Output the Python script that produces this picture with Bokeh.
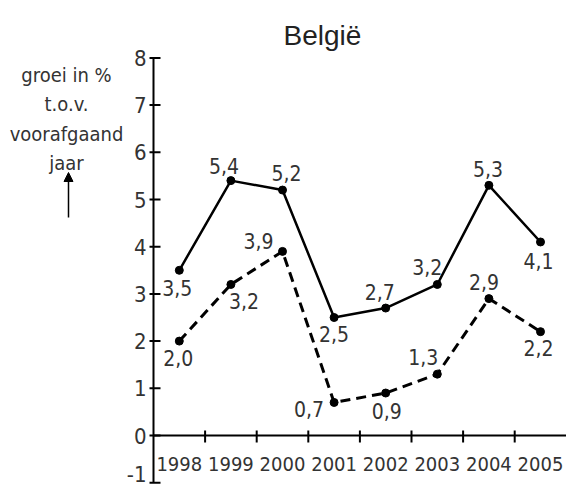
import numpy as np
from bokeh.plotting import figure
from bokeh.models import Range1d, Arrow, NormalHead
from bokeh.core.properties import value
from bokeh.embed import file_html
from bokeh.resources import INLINE

# ---------------- data ----------------
chart_title = "België"
years = ["1998", "1999", "2000", "2001", "2002", "2003", "2004", "2005"]
series_solid = [3.5, 5.4, 5.2, 2.5, 2.7, 3.2, 5.3, 4.1]
series_dashed = [2.0, 3.2, 3.9, 0.7, 0.9, 1.3, 2.9, 2.2]
y_ticks = [-1, 0, 1, 2, 3, 4, 5, 6, 7, 8]
y_label_lines = ["groei in %", "t.o.v.", "voorafgaand", "jaar"]

# ---------------- layout (pixels) ----------------
W, H = 566, 487
PX_X = 51.6          # pixels per category
PX_Y = 47.2          # pixels per y unit
X0_PX = 153          # canvas x of the y axis
Y0_PX = 435          # canvas y of value 0

# label offsets (pixels, screen) relative to each point
solid_dx = [-2, -7, 4, 0, -6, -10, -1, -2]
solid_dy = [18, -15, -17, 16, -16, -17, -16, 19]
dashed_dx = [-1, 13, -24, -25, 1, -14, -5, -2]
dashed_dy = [17, 17, -10, 7, 18, -17, -17, 16]

FONT = value("DejaVu Sans Condensed")
TXT = "#333333"


def xd(px):
    return (px - X0_PX) / PX_X


def yd(py):
    return (Y0_PX - py) / PX_Y


p = figure(width=W, height=H,
           x_range=Range1d(xd(0), xd(W)), y_range=Range1d(yd(H), yd(0)),
           output_backend="svg", toolbar_location=None,
           x_axis_location=None, y_axis_location=None, min_border=0)
p.grid.visible = False
p.outline_line_color = None
p.background_fill_color = "white"
p.border_fill_color = "white"

cx = np.arange(len(years)) + 0.5

# ---- y axis ----
p.segment(x0=[0], y0=[min(y_ticks)], x1=[0], y1=[max(y_ticks)],
          line_color="black", line_width=2)
p.segment(x0=[xd(X0_PX - 4)] * len(y_ticks), x1=[xd(X0_PX + 7)] * len(y_ticks),
          y0=y_ticks, y1=y_ticks, line_color="black", line_width=2)
p.text(x=[xd(X0_PX - 7)] * len(y_ticks), y=y_ticks, text=[str(t) for t in y_ticks],
       y_offset=[-9 if t == min(y_ticks) else 0 for t in y_ticks],
       text_align="right", text_baseline="middle", text_font=FONT,
       text_font_size="22px", text_color=TXT)

# ---- x axis at y = 0 ----
p.segment(x0=[0], y0=[0], x1=[xd(W)], y1=[0], line_color="black", line_width=2)
bounds = np.arange(1, len(years))
p.segment(x0=bounds, x1=bounds, y0=[yd(Y0_PX - 5)] * len(bounds),
          y1=[yd(Y0_PX + 7)] * len(bounds), line_color="black", line_width=2)
p.text(x=cx, y=[0] * len(years), text=years, y_offset=28,
       text_align="center", text_baseline="alphabetic", text_font=FONT,
       text_font_size="20px", text_color=TXT)

# ---- series ----
p.line(cx, series_solid, line_color="black", line_width=2.5)
p.scatter(cx, series_solid, size=8, color="black")
p.line(cx, series_dashed, line_color="black", line_width=3, line_dash="10 6")
p.scatter(cx, series_dashed, size=8, color="black")


def fmt(v):
    return f"{v:.1f}".replace(".", ",")


p.text(x=cx, y=series_solid, text=[fmt(v) for v in series_solid],
       x_offset=solid_dx, y_offset=solid_dy,
       text_align="center", text_baseline="middle", text_font=FONT,
       text_font_size="21px", text_color=TXT)
p.text(x=cx, y=series_dashed, text=[fmt(v) for v in series_dashed],
       x_offset=dashed_dx, y_offset=dashed_dy,
       text_align="center", text_baseline="middle", text_font=FONT,
       text_font_size="21px", text_color=TXT)

# ---- title ----
p.text(x=[xd(322)], y=[yd(35)], text=[chart_title], text_align="center",
       text_baseline="alphabetic", text_font=value("Liberation Sans"),
       text_font_size="28px", text_color="#222222")

# ---- y label ----
label_baselines = [74, 103, 133, 162]
p.text(x=[xd(66)] * len(y_label_lines), y=[yd(b) for b in label_baselines],
       text=y_label_lines, text_align="center", text_baseline="alphabetic",
       text_font=FONT, text_font_size="20px", text_color=TXT)

p.add_layout(Arrow(x_start=xd(68), y_start=yd(217), x_end=xd(68), y_end=yd(172),
                   line_width=1.5, line_color="black",
                   end=NormalHead(size=9, fill_color="black", line_color="black")))

open("out.html", "w").write(file_html(p, INLINE))
